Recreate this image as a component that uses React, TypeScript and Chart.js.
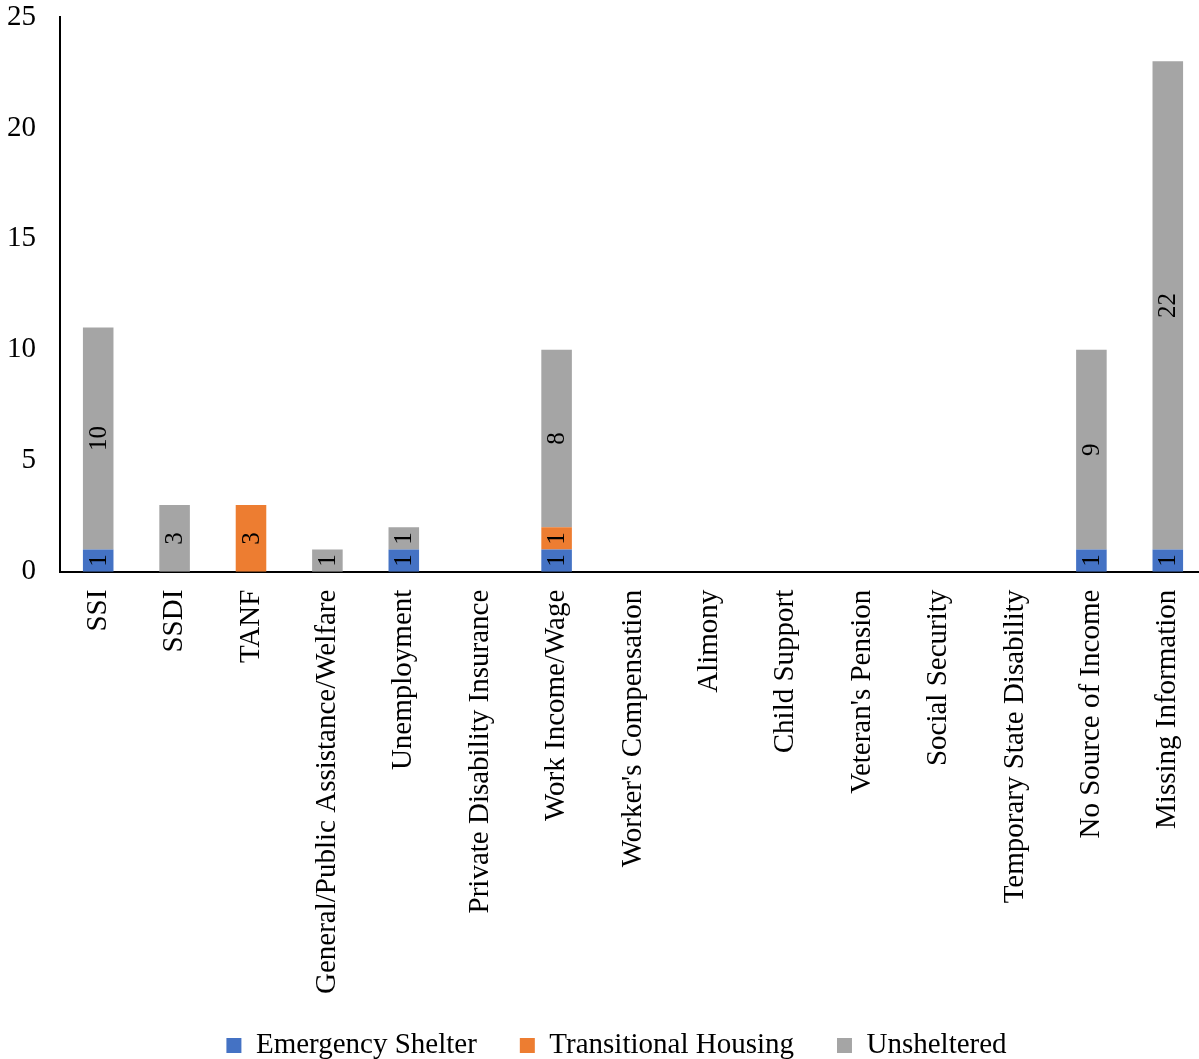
import React, { useEffect, useRef } from "react";
import { Chart, registerables } from "chart.js";

Chart.register(...registerables);

const categories = [
  "SSI",
  "SSDI",
  "TANF",
  "General/Public Assistance/Welfare",
  "Unemployment",
  "Private Disability Insurance",
  "Work Income/Wage",
  "Worker's Compensation",
  "Alimony",
  "Child Support",
  "Veteran's Pension",
  "Social Security",
  "Temporary State Disability",
  "No Source of Income",
  "Missing Information",
];

const emergencyShelter = [1, null, null, null, 1, null, 1, null, null, null, null, null, null, 1, 1];
const transitionalHousing = [null, null, 3, null, null, null, 1, null, null, null, null, null, null, null, null];
const unsheltered = [10, 3, null, 1, 1, null, 8, null, null, null, null, null, null, 9, 22];

const yTicks = [0, 5, 10, 15, 20, 25];

const FONT = "'Liberation Serif', 'Times New Roman', serif";

const dataLabelPlugin = {
  id: "dataLabels",
  afterDatasetsDraw(chart: any) {
    const ctx = chart.ctx;
    chart.data.datasets.forEach((ds: any, di: number) => {
      const meta = chart.getDatasetMeta(di);
      meta.data.forEach((el: any, i: number) => {
        const v = ds.data[i];
        if (v == null || v === 0) return;
        const cx = el.x;
        const cy = (el.y + el.base) / 2;
        ctx.save();
        ctx.translate(cx, cy);
        ctx.rotate(-Math.PI / 2);
        ctx.font = `25px ${FONT}`;
        ctx.fillStyle = "#000";
        ctx.textAlign = "center";
        ctx.textBaseline = "middle";
        ctx.fillText(String(v), 0, 1);
        ctx.restore();
      });
    });
  },
};

const legendAdjustPlugin = {
  id: "legendAdjust",
  beforeLayout(chart: any) {
    const lg = chart.legend;
    if (lg && !lg.__patched) {
      const orig = lg.fit.bind(lg);
      lg.fit = function () {
        orig();
        this.height -= 24;
      };
      lg.__patched = true;
    }
  },
  afterLayout(chart: any) {
    const lg = chart.legend;
    if (!lg) return;
    lg.top -= 24;
    lg.left += 11;
    lg.right += 11;
  },
};

export default function App() {
  const ref = useRef<HTMLCanvasElement>(null);
  useEffect(() => {
    if (!ref.current) return;
    const chart = new Chart(ref.current, {
      type: "bar",
      data: {
        labels: categories,
        datasets: [
          { label: "Emergency Shelter", data: emergencyShelter, backgroundColor: "#4472C4" },
          { label: "Transitional Housing", data: transitionalHousing, backgroundColor: "#ED7D31" },
          { label: "Unsheltered", data: unsheltered, backgroundColor: "#A5A5A5" },
        ],
      },
      options: {
        responsive: false,
        animation: false,
        layout: { padding: { left: 5, right: 0, top: 17, bottom: -11 } },
        datasets: { bar: { barPercentage: 0.4, categoryPercentage: 1 } },
        scales: {
          x: {
            stacked: true,
            grid: { display: false, drawTicks: false },
            border: { display: true, color: "#000", width: 2 },
            ticks: {
              color: "#000",
              font: { family: FONT, size: 29 },
              minRotation: 90,
              maxRotation: 90,
              autoSkip: false,
              padding: 18,
            },
            afterFit: (axis: any) => {
              axis.paddingLeft = 0;
              axis.paddingRight = 0;
            },
          },
          y: {
            stacked: true,
            min: 0,
            max: 25,
            afterBuildTicks: (axis: any) => {
              axis.ticks = yTicks.map((v) => ({ value: v }));
            },
            grid: { display: false, drawTicks: false },
            border: { display: true, color: "#000", width: 2 },
            ticks: {
              color: "#000",
              font: { family: FONT, size: 29 },
              padding: 24,
            },
            afterFit: (axis: any) => {
              axis.width = 55;
              axis.paddingTop = 0;
              axis.paddingBottom = 0;
            },
          },
        },
        plugins: {
          legend: {
            position: "bottom",
            labels: {
              color: "#000",
              font: { family: FONT, size: 29 },
              boxWidth: 15,
              boxHeight: 15,
              padding: 43,
            },
          },
          tooltip: { enabled: false },
        },
      },
      plugins: [dataLabelPlugin, legendAdjustPlugin],
    });
    return () => chart.destroy();
  }, []);
  return (
    <div style={{ position: "fixed", left: 0, top: 0, width: 1199, height: 1059, overflow: "hidden", background: "#fff" }}>
      <canvas ref={ref} width={1206} height={1059} />
    </div>
  );
}
